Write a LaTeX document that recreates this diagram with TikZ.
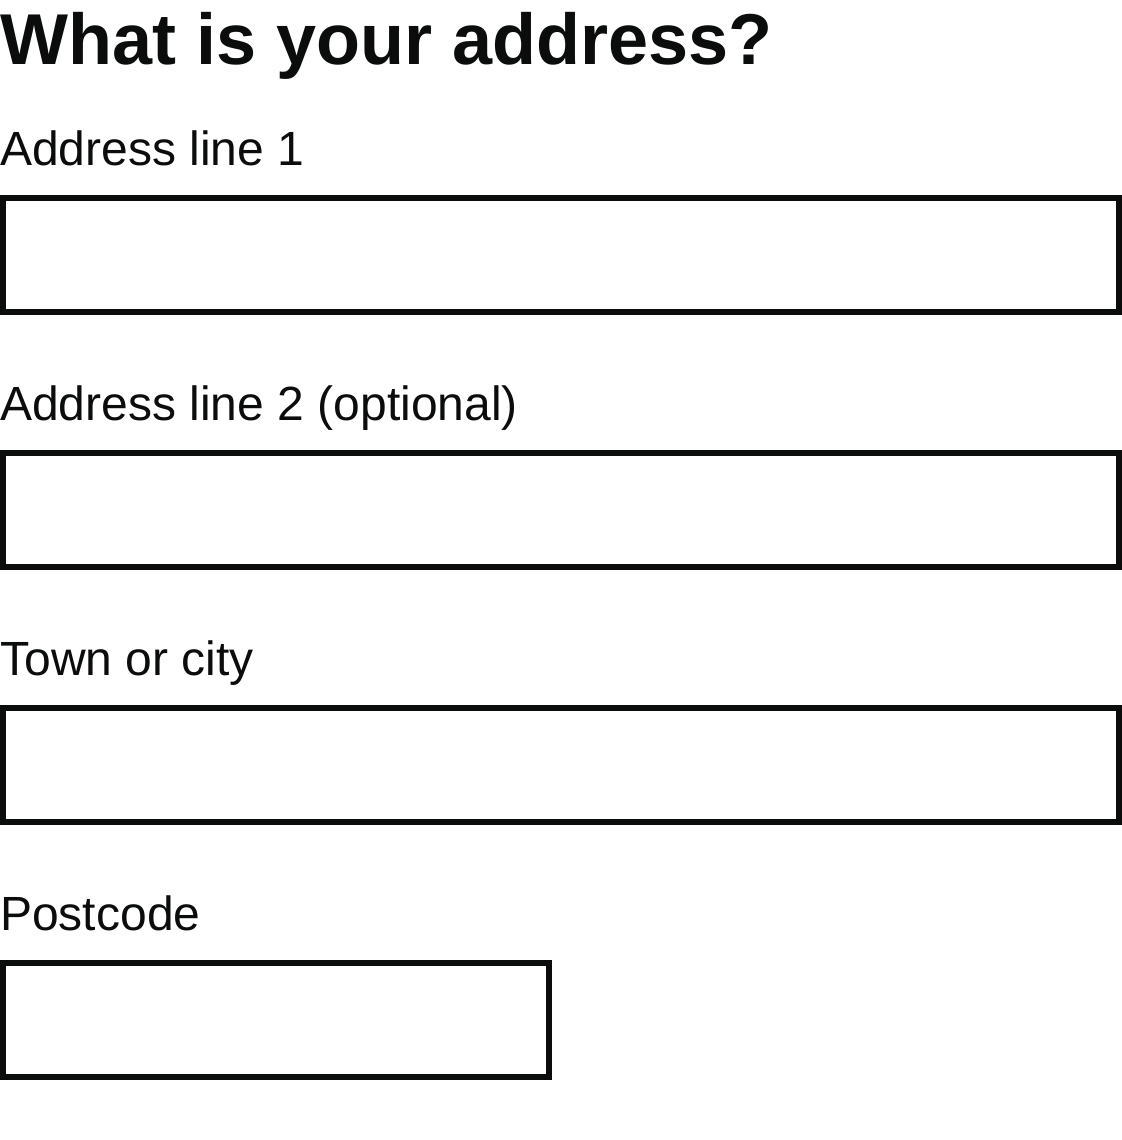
\documentclass[tikz,border=0pt]{standalone}
\usepackage{fontspec}
\setmainfont{Liberation Sans}
\definecolor{govtext}{HTML}{0B0C0C}
\begin{document}
\begin{tikzpicture}[x=0.75pt,y=-0.75pt,
  heading/.style={anchor=base west,inner sep=0pt,text=govtext,font=\fontsize{54}{60}\selectfont\bfseries},
  label/.style={anchor=base west,inner sep=0pt,text=govtext,font=\fontsize{36}{42}\selectfont},
  inputbox/.style={draw=govtext,line width=4.5pt,fill=white}]
\useasboundingbox (0,0) rectangle (1122,1140);
\node[heading] (h) at (0,64) {What is your address?};
\node[label] (l1) at (0,165) {Address line 1};
\draw[inputbox] (3,198) rectangle (1119,312);
\node[label] (l2) at (0,420) {Address line 2 (optional)};
\draw[inputbox] (3,453) rectangle (1119,567);
\node[label] (l3) at (0,675) {Town or city};
\draw[inputbox] (3,708) rectangle (1119,822);
\node[label] (l4) at (0,930) {Postcode};
\draw[inputbox] (3,963) rectangle (549,1077);
\end{tikzpicture}
\end{document}
